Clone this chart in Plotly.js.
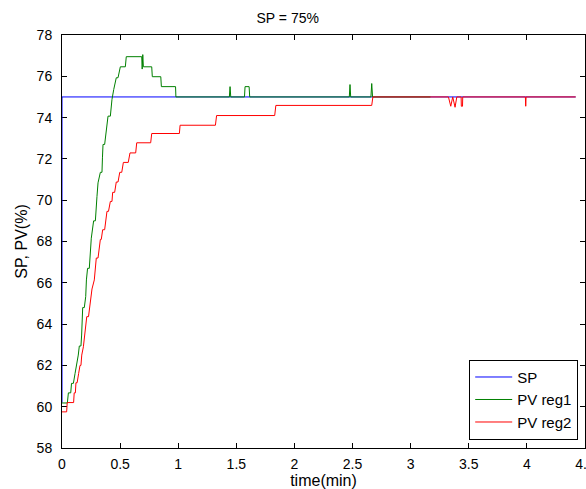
<!DOCTYPE html>
<html>
<head>
<meta charset="utf-8">
<script src="https://cdn.plot.ly/plotly-3.0.1.min.js"></script>
<style>html,body{margin:0;padding:0;background:#fff}#chart{width:586px;height:489px}</style>
</head>
<body>
<div id="chart"></div>
<script>
// Setpoint
const spTime = [0, 0, 4.42];
const spValue = [60.2, 75, 75];

// PV reg1 (green)
const reg1Time = [0, 0.046, 0.055, 0.075, 0.082, 0.098, 0.112, 0.126, 0.14, 0.149, 0.163, 0.169, 0.178, 0.192, 0.204, 0.21, 0.22, 0.235, 0.252, 0.272, 0.287, 0.301, 0.31, 0.33, 0.344, 0.348, 0.353, 0.367, 0.381, 0.396, 0.416, 0.43, 0.445, 0.467, 0.482, 0.502, 0.545, 0.553, 0.686, 0.69, 0.695, 0.70, 0.772, 0.777, 0.85, 0.855, 0.977, 0.98, 1.44, 1.446, 1.452, 1.57, 1.575, 1.61, 1.615, 2.472, 2.478, 2.484, 2.658, 2.665, 2.672, 3.17];
const reg1Value = [60.18, 60.18, 60.67, 60.67, 61.13, 61.13, 61.6, 62.0, 62.5, 62.94, 62.94, 63.47, 64.8, 64.8, 65.33, 66.14, 66.7, 66.7, 68.16, 69.0, 69.0, 70.18, 70.84, 71.35, 71.35, 72.05, 72.7, 72.7, 73.42, 74.07, 74.07, 74.88, 75.36, 75.93, 75.93, 76.46, 76.46, 76.95, 76.95, 76.35, 77.05, 76.46, 76.46, 75.98, 75.98, 75.5, 75.5, 75.0, 75.0, 75.5, 75.0, 75.0, 75.5, 75.5, 75.0, 75.0, 75.6, 75.0, 75.0, 75.65, 75.0, 75.0];

// PV reg2 (red)
const reg2Time = [0, 0.04, 0.045, 0.1, 0.105, 0.115, 0.12, 0.13, 0.143, 0.155, 0.163, 0.17, 0.184, 0.198, 0.213, 0.228, 0.258, 0.278, 0.295, 0.31, 0.33, 0.338, 0.35, 0.367, 0.387, 0.4, 0.416, 0.43, 0.436, 0.453, 0.467, 0.482, 0.497, 0.514, 0.528, 0.57, 0.585, 0.634, 0.643, 0.763, 0.772, 1.01, 1.016, 1.32, 1.33, 1.83, 1.84, 2.665, 2.675, 3.325, 3.345, 3.362, 3.382, 3.397, 3.434, 3.436, 3.446, 3.448, 3.987, 3.99, 3.993, 4.42];
const reg2Value = [59.75, 59.75, 60.2, 60.2, 60.67, 60.67, 61.16, 61.16, 61.6, 62.0, 62.0, 62.5, 62.9, 63.6, 64.36, 64.36, 65.7, 66.14, 67.2, 67.2, 68.1, 68.1, 68.57, 68.57, 69.46, 69.46, 69.94, 69.94, 70.38, 70.38, 70.88, 70.88, 71.35, 71.35, 71.83, 71.83, 72.29, 72.29, 72.78, 72.78, 73.23, 73.23, 73.63, 73.63, 74.1, 74.1, 74.59, 74.59, 75.0, 75.0, 74.55, 75.0, 74.5, 75.0, 75.0, 74.55, 74.55, 75.0, 75.0, 74.55, 75.0, 75.0];

const seriesNames = ['SP', 'PV reg1', 'PV reg2'];
const seriesColors = ['rgb(0,0,255)', 'rgb(0,128,0)', 'rgb(255,0,0)'];
const xTicks = [0, 0.5, 1, 1.5, 2, 2.5, 3, 3.5, 4, 4.5];
const yTicks = [58, 60, 62, 64, 66, 68, 70, 72, 74, 76, 78];

const FONT = 'Liberation Sans, Arial, Helvetica, sans-serif';
const xs = [spTime, reg1Time, reg2Time];
const ys = [spValue, reg1Value, reg2Value];
const traces = xs.map((x, i) => ({
  x: x, y: ys[i], type: 'scatter', mode: 'lines', name: seriesNames[i],
  line: {color: seriesColors[i], width: 1}
}));

const axisCommon = {
  showline: true, linecolor: '#000', linewidth: 1, mirror: 'ticks',
  ticks: 'inside', ticklen: 5, tickwidth: 1, tickcolor: '#000',
  showgrid: false, zeroline: false, layer: 'below traces',
  tickfont: {family: FONT, size: 14, color: '#000'}
};

const layout = {
  width: 586, height: 489,
  margin: {l: 62, r: 1, t: 35, b: 41, pad: 0},
  paper_bgcolor: '#fff', plot_bgcolor: '#fff',
  font: {family: FONT, size: 14, color: '#000'},
  title: {text: 'SP = 75%', x: 0.491, xref: 'container', xanchor: 'center',
          y: 0.963, yref: 'container', yanchor: 'middle',
          font: {family: FONT, size: 14, color: '#000'}},
  xaxis: Object.assign({}, axisCommon, {
    range: [0, 4.5], tickmode: 'array', tickvals: xTicks, ticktext: xTicks.map(String),
    ticklabelstandoff: 3, ticklabeloverflow: 'allow',
    title: {text: 'time(min)', standoff: 1, font: {family: FONT, size: 16, color: '#000'}}
  }),
  yaxis: Object.assign({}, axisCommon, {
    range: [58, 78], tickmode: 'array', tickvals: yTicks, ticktext: yTicks.map(String),
    ticklabelstandoff: 6,
    title: {text: 'SP, PV(%)', standoff: 5, font: {family: FONT, size: 16, color: '#000'}}
  }),
  showlegend: true,
  legend: {x: 0.987, xanchor: 'right', y: 0.02, yanchor: 'bottom',
           bgcolor: '#fff', bordercolor: '#000', borderwidth: 1, itemwidth: 37,
           font: {family: FONT, size: 15, color: '#000'}, tracegroupgap: 0}
};

Plotly.newPlot('chart', traces, layout, {staticPlot: true, displayModeBar: false});
</script>
</body>
</html>
